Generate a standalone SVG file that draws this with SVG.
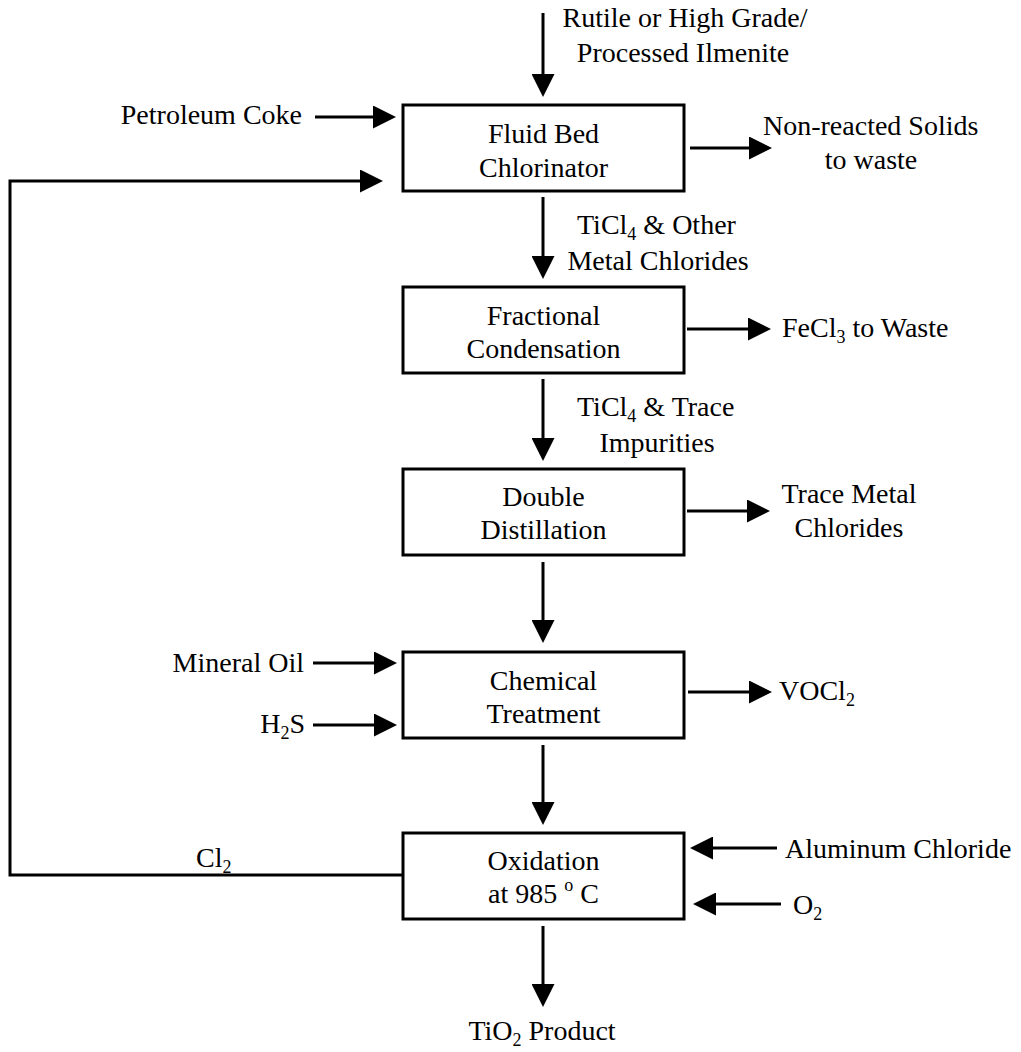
<svg xmlns="http://www.w3.org/2000/svg" width="1021" height="1052" viewBox="0 0 1021 1052">
  <style>
    .box { fill: #fff; stroke: #000; stroke-width: 3; }
    .lbl { font-family: "Liberation Serif", "Times New Roman", serif; font-size: 28px; fill: #000; }
    .mid { text-anchor: middle; }
    .end { text-anchor: end; }
    .sub { font-size: 18px; baseline-shift: -6px; }
    .sup { font-size: 18px; baseline-shift: 12px; }
    .flow { fill: none; stroke: #000; stroke-width: 3; marker-end: url(#head); }
  </style>
  <defs>
    <marker id="head" markerUnits="userSpaceOnUse" markerWidth="23" markerHeight="23" refX="5" refY="11.5" orient="auto">
      <path d="M0,0 L23,11.5 L0,23 z" fill="#000"/>
    </marker>
  </defs>
  <rect width="1021" height="1052" fill="#fff"/>

  <!-- process steps -->
  <g id="chlorinator">
    <rect class="box" x="403" y="105" width="281" height="86"/>
    <text class="lbl mid" x="543.5" y="143">Fluid Bed</text>
    <text class="lbl mid" x="543.5" y="177">Chlorinator</text>
  </g>
  <g id="condensation">
    <rect class="box" x="403" y="287" width="281" height="86"/>
    <text class="lbl mid" x="543.5" y="325">Fractional</text>
    <text class="lbl mid" x="543.5" y="358">Condensation</text>
  </g>
  <g id="distillation">
    <rect class="box" x="403" y="469" width="281" height="86"/>
    <text class="lbl mid" x="543.5" y="506">Double</text>
    <text class="lbl mid" x="543.5" y="539">Distillation</text>
  </g>
  <g id="treatment">
    <rect class="box" x="403" y="652" width="281" height="86"/>
    <text class="lbl mid" x="543.5" y="690">Chemical</text>
    <text class="lbl mid" x="543.5" y="723">Treatment</text>
  </g>
  <g id="oxidation">
    <rect class="box" x="403" y="833" width="281" height="86"/>
    <text class="lbl mid" x="543.5" y="870">Oxidation</text>
    <text class="lbl mid" x="543.5" y="903">at 985 <tspan class="sup">o</tspan> C</text>
  </g>

  <!-- streams in and out -->
  <g id="streams">
    <text class="lbl mid" x="685" y="27">Rutile or High Grade/</text>
    <text class="lbl mid" x="683" y="62">Processed Ilmenite</text>
    <text class="lbl end" x="302" y="124">Petroleum Coke</text>
    <text class="lbl" x="763" y="135">Non-reacted Solids</text>
    <text class="lbl mid" x="871" y="169">to waste</text>
    <text class="lbl" x="577" y="234">TiCl<tspan class="sub">4</tspan> &amp; Other</text>
    <text class="lbl mid" x="658" y="270">Metal Chlorides</text>
    <text class="lbl" x="782" y="337">FeCl<tspan class="sub">3</tspan> to Waste</text>
    <text class="lbl" x="577" y="416">TiCl<tspan class="sub">4</tspan> &amp; Trace</text>
    <text class="lbl mid" x="657" y="452">Impurities</text>
    <text class="lbl mid" x="849" y="503">Trace Metal</text>
    <text class="lbl mid" x="849" y="537">Chlorides</text>
    <text class="lbl end" x="304" y="672">Mineral Oil</text>
    <text class="lbl end" x="305" y="733">H<tspan class="sub">2</tspan>S</text>
    <text class="lbl" x="779" y="700">VOCl<tspan class="sub">2</tspan></text>
    <text class="lbl" x="196" y="867">Cl<tspan class="sub">2</tspan></text>
    <text class="lbl" x="785" y="858">Aluminum Chloride</text>
    <text class="lbl" x="793" y="914">O<tspan class="sub">2</tspan></text>
    <text class="lbl mid" x="542" y="1040">TiO<tspan class="sub">2</tspan> Product</text>
  </g>

  <!-- connectors -->
  <g id="connectors">
    <line class="flow" x1="543" y1="13" x2="543" y2="79"/>
    <line class="flow" x1="315" y1="117" x2="378" y2="117"/>
    <polyline class="flow" points="403,875 10,875 10,181 365,181"/>
    <line class="flow" x1="690" y1="148" x2="754" y2="148"/>
    <line class="flow" x1="543" y1="197" x2="543" y2="261"/>
    <line class="flow" x1="687" y1="329" x2="753" y2="329"/>
    <line class="flow" x1="543" y1="379" x2="543" y2="443"/>
    <line class="flow" x1="687" y1="511" x2="752" y2="511"/>
    <line class="flow" x1="543" y1="562" x2="543" y2="625"/>
    <line class="flow" x1="313" y1="663" x2="379" y2="663"/>
    <line class="flow" x1="313" y1="725" x2="379" y2="725"/>
    <line class="flow" x1="688" y1="692" x2="754" y2="692"/>
    <line class="flow" x1="543" y1="745" x2="543" y2="807"/>
    <line class="flow" x1="777" y1="848" x2="708" y2="848"/>
    <line class="flow" x1="781" y1="904" x2="711" y2="904"/>
    <line class="flow" x1="543" y1="926" x2="543" y2="989"/>
  </g>
</svg>
